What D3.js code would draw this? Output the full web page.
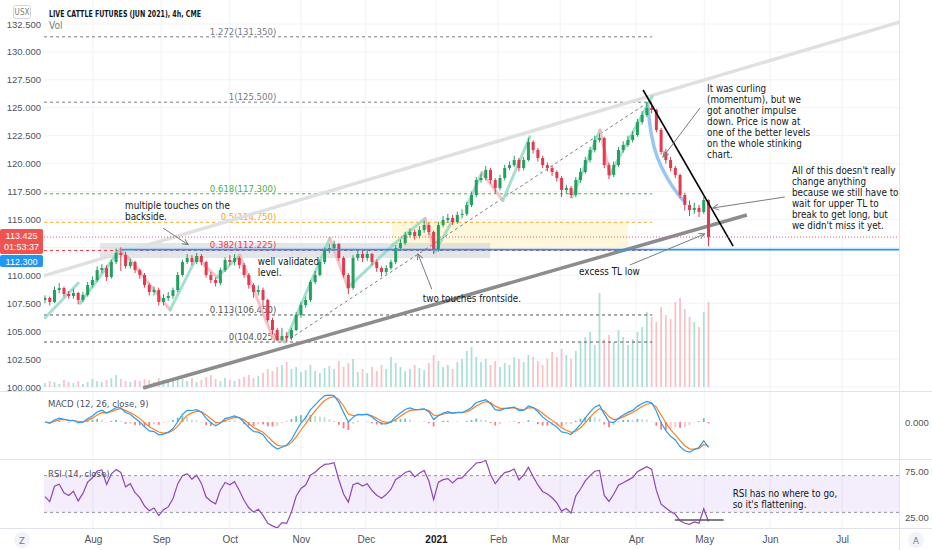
<!DOCTYPE html>
<html>
<head>
<meta charset="utf-8">
<script src="https://cdn.jsdelivr.net/npm/d3@7"></script>
<style>
  body { margin: 0; background: #fff; }
  text { font-family: "Liberation Sans Narrow", "DejaVu Sans Condensed", "Roboto", sans-serif; }
</style>
</head>
<body>
<div id="chart"></div>
<script>
// live cattle futures, one candle ~ 3 of the 4h bars
const closes = [107.97,107.61,108.68,108.86,108.33,108.15,108.42,107.79,108.24,109.13,
  109.58,110.47,110.65,109.85,111.19,112.00,111.82,110.83,111.19,110.47,
  110.03,109.13,108.50,108.68,107.61,107.97,108.15,108.68,110.03,111.19,
  111.55,111.19,111.73,111.19,110.03,109.58,109.31,110.47,111.37,111.19,
  111.55,110.92,110.03,109.13,108.50,108.68,107.79,106.00,105.10,104.21,
  104.57,104.39,105.10,106.45,107.34,107.79,109.40,110.03,111.19,112.26,
  112.44,112.80,111.55,110.03,108.86,111.55,111.91,111.55,111.91,111.19,
  110.65,110.30,110.65,111.19,112.44,112.89,113.61,113.88,113.52,114.06,
  114.50,113.88,112.26,114.50,114.95,115.13,114.77,115.40,115.49,116.29,
  117.19,118.53,118.71,119.43,118.53,117.82,118.71,119.61,119.87,120.32,
  119.61,120.32,121.93,121.22,120.50,119.87,119.61,119.25,118.71,117.64,
  117.82,117.19,118.53,119.25,120.32,121.22,122.11,122.29,119.87,118.98,
  119.87,121.22,121.67,122.11,122.56,123.72,124.35,124.98,124.80,123.01,
  121.04,120.32,119.61,118.98,117.19,116.29,115.85,116.03,115.67,116.74,
  113.425];
const highs = [108.2,108.1,109.0,109.3,109.0,108.6,108.8,108.5,108.5,109.4,
  109.9,110.8,111.0,110.9,111.4,112.4,112.5,112.1,111.5,111.3,
  110.6,110.2,109.3,109.0,108.9,108.3,108.5,108.9,110.3,111.4,
  111.9,111.8,112.0,111.9,111.3,110.3,109.8,110.7,111.6,111.8,
  111.9,111.7,111.1,110.2,109.3,109.1,108.9,107.9,106.2,105.3,
  105.3,104.9,105.3,106.7,107.6,108.1,109.6,110.4,111.4,112.5,
  112.8,113.1,112.9,111.7,110.2,111.8,112.3,112.2,112.3,112.0,
  111.4,110.8,110.9,111.4,112.7,113.2,113.9,114.2,114.1,114.4,
  114.9,114.7,114.0,114.8,115.3,115.5,115.4,115.7,115.9,116.6,
  117.5,118.8,119.1,119.8,119.6,118.7,119.0,119.9,120.2,120.7,
  120.5,120.6,122.3,122.1,121.4,120.7,120.1,119.8,119.4,118.9,
  118.1,118.0,118.8,119.6,120.6,121.5,122.5,122.7,122.4,120.1,
  120.2,121.5,122.0,122.5,122.9,124.0,124.7,125.5,125.4,124.9,
  123.2,121.3,120.6,119.8,119.1,117.4,116.7,116.5,116.3,117.0,
  116.8];
const lows = [107.5,107.3,107.5,108.4,108.1,107.9,107.9,107.4,107.6,108.1,
  108.9,109.4,110.2,109.5,109.7,111.0,110.4,110.6,110.6,110.2,
  109.7,108.9,108.2,108.2,107.3,107.3,107.7,107.9,108.5,109.9,
  111.0,110.9,111.0,110.9,109.8,109.3,109.0,109.1,110.3,110.9,
  110.9,110.6,109.8,108.8,108.0,108.2,107.2,105.8,104.7,104.1,
  104.1,104.025,104.2,105.0,106.2,107.1,107.6,109.2,109.9,111.0,
  112.0,112.2,111.3,109.8,108.3,108.7,111.3,111.2,111.3,110.9,
  110.3,109.9,110.1,110.5,111.0,112.2,112.7,113.4,113.2,113.3,
  113.8,113.6,111.9,112.1,114.3,114.7,114.5,114.6,115.1,115.3,
  116.1,117.0,118.3,118.5,118.2,117.3,117.6,118.5,119.4,119.7,
  119.3,119.4,120.2,120.9,120.2,119.6,119.3,118.9,118.4,117.0,
  117.3,116.9,117.0,118.3,119.1,120.1,121.0,121.9,119.6,118.6,
  118.8,119.7,121.0,121.5,121.9,122.4,123.5,124.2,124.5,122.8,
  120.8,120.0,119.3,118.7,116.9,115.8,115.3,115.5,115.2,115.5,
  112.6];
const volumes = [400,600,500,300,700,500,400,600,300,500,
  800,600,500,700,900,1200,800,600,500,700,
  600,800,700,500,900,600,500,700,1000,800,
  600,900,500,700,1000,1200,800,600,900,700,
  600,800,1000,1200,900,1100,1400,1800,1600,2000,
  2200,2500,1800,2000,1500,1700,2200,1600,1400,1900,
  2100,1800,2600,2000,2400,2800,1500,1800,1400,2000,
  1600,2200,1800,3000,2400,2000,1600,1800,2200,1900,
  1700,2400,3200,2600,2000,2200,1800,2500,2800,3600,
  4000,3000,2500,2800,2200,2600,2000,2400,2200,3000,
  2800,2500,3200,3000,2600,2200,2800,3500,3000,3800,
  3200,2800,3600,4500,5000,5500,4200,9400,4800,5200,
  4500,5700,5000,4200,4800,5500,6000,7500,7000,6500,
  8000,7200,6800,8500,8900,7800,7000,6500,6000,7500,
  8500];
const firstOpen = 107.80;
const lastPrice = 113.425;
const levelPrice = 112.300;
const countdown = "01:53:37";

const priceTicks = [100, 102.5, 105, 107.5, 110, 112.5, 115, 117.5, 120, 122.5, 125, 127.5, 130, 132.5];
const monthBars = [10.1, 24.5, 39.0, 54.0, 67.7, 82.5, 95.6, 108.7, 124.7, 139.1, 153.0, 168.2];
const monthLabels = ["Aug", "Sep", "Oct", "Nov", "Dec", "2021", "Feb", "Mar", "Apr", "May", "Jun", "Jul"];

const fibRatios = [1.272, 1, 0.618, 0.5, 0.382, 0.113, 0];
const fibPrices = [131.350, 125.500, 117.300, 114.750, 112.225, 106.450, 104.025];

// drawn lines: [bar, price] pairs
const upperChannel = [[-0.4, 109.94], [180.4, 132.68]];
const lowerTrend = [[20.7, 99.91], [148.1, 115.40]];
const downTrend = [[126.2, 126.59], [145.2, 112.62]];
const fibTrend = [[50.6, 104.025], [127.3, 125.5]];
const curlArc = [[127.2, 125.25], [127.8, 122.56], [129.1, 120.5], [131.2, 118.71], [133.6, 117.19], [135.2, 116.47]];
const zigzags = [
  [[0, 106.2], [7, 109.3]],
  [[7.4, 107.5], [15.8, 112.3], [17.5, 111.6], [26.4, 106.9], [32, 111.6], [36.3, 109.8], [41.1, 111.8],
   [48.1, 104.4], [50.6, 104.03], [60.1, 113.3], [63.9, 108.9], [73.4, 112.7], [80.2, 115.1], [82.3, 112.1], [86.1, 115.0]],
  [[89, 116.2], [92.2, 119.2], [96.6, 116.7], [102.3, 122.4]],
  [[111.2, 117.0], [117.1, 123.0], [119.2, 119.0], [128.1, 126.0]]
];

const noteBackside = ["multiple touches on the", "backside."];
const noteLevel = ["well validated", "level."];
const noteFront = ["two touches frontside."];
const noteExcess = ["excess TL low"];
const noteCurling = ["It was curling", "(momentum), but we", "got another impulse", "down. Price is now at",
  "one of the better levels", "on the whole stinking", "chart."];
const noteWait = ["All of this doesn't really", "change anything", "because we still have to",
  "wait for upper TL to", "break to get long, but", "we didn't miss it yet."];
const noteRsi = ["RSI has no where to go,", "so it's flattening."];

// ---------------------------------------------------------------
const W = 932, H = 550;
const left = 44, right = 899;
const green = "#22a05e", red = "#e53950";
const gray = "#787b86", ink = "#131722";
const axisFont = "'Liberation Sans', Arial, sans-serif";
const noteSize = 9.8;

const candles = closes.map((c, i) => ({
  i: i, o: i ? closes[i - 1] : firstOpen, c: c, h: highs[i], l: lows[i], v: volumes[i]
}));

const svg = d3.select("#chart").append("svg")
  .attr("width", W).attr("height", H)
  .style("display", "block");

const x = d3.scaleLinear().domain([0, closes.length - 1]).range([45, 708.5]);
const y = d3.scaleLinear().domain([100, 132.5]).range([387, 24]);
const yVol = d3.scaleLinear().domain([0, 10000]).range([387, 287]);
const line = d3.line().x(d => x(d[0])).y(d => y(d[1]));

svg.append("defs").append("clipPath").attr("id", "pane")
  .append("rect").attr("x", left).attr("y", 0).attr("width", right - left).attr("height", 390);
const marker = svg.select("defs").append("marker")
  .attr("id", "arrow").attr("viewBox", "0 0 10 10").attr("refX", 9).attr("refY", 5)
  .attr("markerWidth", 7).attr("markerHeight", 7).attr("orient", "auto");
marker.append("path").attr("d", "M1,1L9,5L1,9").attr("fill", "none").attr("stroke", gray).attr("stroke-width", 1.4);

// grid
const grid = svg.append("g").attr("stroke", "#f1f2f5").attr("stroke-width", 1);
grid.selectAll(".hg").data(priceTicks).enter().append("line")
  .attr("x1", left).attr("x2", right).attr("y1", d => y(d)).attr("y2", d => y(d));
grid.selectAll(".vg").data(monthBars).enter().append("line")
  .attr("x1", d => x(d)).attr("x2", d => x(d)).attr("y1", 0).attr("y2", 528);

const pane = svg.append("g").attr("clip-path", "url(#pane)");

// boxes
pane.append("rect")
  .attr("x", x(73.2)).attr("width", x(123.0) - x(73.2))
  .attr("y", y(114.75)).attr("height", y(112.225) - y(114.75))
  .attr("fill", "#fff4cf").attr("opacity", 0.75);
pane.append("rect")
  .attr("x", x(11.6)).attr("width", x(93.9) - x(11.6))
  .attr("y", y(112.89)).attr("height", y(111.55) - y(112.89))
  .attr("fill", "#c9ccd3").attr("opacity", 0.5);

// volume
pane.selectAll(".vol").data(candles).enter().append("rect")
  .attr("x", d => x(d.i) - 0.9).attr("width", 1.8)
  .attr("y", d => yVol(d.v)).attr("height", d => yVol(0) - yVol(d.v))
  .attr("fill", d => d.c >= d.o ? "#9ad8cb" : "#f7b3b9").attr("opacity", 0.8);

// fib levels
const fibColor = r => r === 0.618 ? "#4caf50" : r === 0.5 ? "#f5a623" : r === 0.382 ? "#f23645" : (r > 0.9 ? gray : "#555");
const fib = pane.append("g");
fib.selectAll("line").data(fibRatios).enter().append("line")
  .attr("x1", x(-0.2)).attr("x2", x(128.1))
  .attr("y1", (d, i) => y(fibPrices[i])).attr("y2", (d, i) => y(fibPrices[i]))
  .attr("stroke", d => fibColor(d)).attr("stroke-dasharray", "3,3").attr("stroke-width", 1);
fib.selectAll("text").data(fibRatios).enter().append("text")
  .attr("x", x(48.8)).attr("y", (d, i) => y(fibPrices[i]) - 2)
  .attr("text-anchor", "end").attr("font-size", 9.5)
  .attr("fill", d => fibColor(d))
  .text((d, i) => d + "(" + d3.format(".3f")(fibPrices[i]) + ")");

// trend lines
pane.append("path").datum(upperChannel).attr("d", line)
  .attr("stroke", "#e0e0e0").attr("stroke-width", 3.5).attr("fill", "none");
pane.append("path").datum(lowerTrend).attr("d", line)
  .attr("stroke", "#8c8c8c").attr("stroke-width", 3.5).attr("fill", "none");
pane.append("path").datum(fibTrend).attr("d", line)
  .attr("stroke", gray).attr("stroke-width", 1).attr("stroke-dasharray", "3,3").attr("fill", "none");

// zigzag highlights
zigzags.forEach(z => {
  pane.selectAll(null).data(d3.pairs(z)).enter().append("path")
    .attr("d", d => line(d))
    .attr("stroke", d => d[1][1] >= d[0][1] ? "#8fd8c2" : "#f7b0b8")
    .attr("stroke-width", 3).attr("stroke-linecap", "round").attr("fill", "none").attr("opacity", 0.8);
});
pane.append("path").datum(curlArc).attr("d", line.curve(d3.curveBasis))
  .attr("stroke", "#9ac7f2").attr("stroke-width", 3.5).attr("fill", "none");
line.curve(d3.curveLinear);

// candles
const cg = pane.append("g");
cg.selectAll(".wick").data(candles).enter().append("line")
  .attr("x1", d => x(d.i)).attr("x2", d => x(d.i))
  .attr("y1", d => y(d.h)).attr("y2", d => y(d.l))
  .attr("stroke", d => d.c >= d.o ? green : red).attr("stroke-width", 1);
cg.selectAll(".body").data(candles).enter().append("rect")
  .attr("x", d => x(d.i) - 1.5).attr("width", 3)
  .attr("y", d => y(Math.max(d.o, d.c)))
  .attr("height", d => Math.max(1, Math.abs(y(d.o) - y(d.c))))
  .attr("fill", d => d.c >= d.o ? green : red);

pane.append("path").datum(downTrend).attr("d", line)
  .attr("stroke", "#000").attr("stroke-width", 1.6).attr("fill", "none");

// price lines
pane.append("line").attr("x1", x(16.2)).attr("x2", right)
  .attr("y1", y(levelPrice)).attr("y2", y(levelPrice))
  .attr("stroke", "#2196f3").attr("stroke-width", 1.6);
pane.append("line").attr("x1", left).attr("x2", right)
  .attr("y1", y(lastPrice)).attr("y2", y(lastPrice))
  .attr("stroke", "#f7525f").attr("stroke-dasharray", "1,2").attr("stroke-width", 1);

// annotations
function note(lines, bar, price) {
  const t = svg.append("text").attr("font-size", noteSize).attr("fill", ink);
  lines.forEach((s, k) => t.append("tspan").attr("x", x(bar)).attr("y", y(price) + k * 11).text(s));
}
function arrow(a, b) {
  svg.append("line")
    .attr("x1", x(a[0])).attr("y1", y(a[1])).attr("x2", x(b[0])).attr("y2", y(b[1]))
    .attr("stroke", gray).attr("stroke-width", 1)
    .attr("marker-end", "url(#arrow)");
}
note(noteBackside, 16.9, 115.94);
arrow([24.9, 114.23], [30.2, 112.75]);
note(noteLevel, 44.9, 110.92);
note(noteFront, 79.7, 107.61);
arrow([81.6, 108.77], [78.7, 111.91]);
note(noteExcess, 112.7, 110.03);
arrow([123.4, 110.92], [139.2, 113.70]);
note(noteCurling, 139.7, 126.41);
arrow([138.2, 124.98], [130.4, 120.59]);
note(noteWait, 157.6, 119.07);
arrow([156.1, 117.01], [140.9, 116.03]);

// left price axis with last price / level tags
const redTop = y(lastPrice) - 8;
const tagBottom = redTop + 38;
const yAxis = svg.append("g").attr("transform", "translate(41,0)")
  .call(d3.axisLeft(y).tickValues(priceTicks).tickFormat(d3.format(".3f")).tickSize(0).tickPadding(0));
yAxis.select(".domain").remove();
yAxis.selectAll(".tick").filter(d => y(d) > redTop - 6 && y(d) < tagBottom + 6).remove();
yAxis.selectAll("text").attr("font-size", 9.5).attr("fill", "#50535e").style("font-family", axisFont);

function tag(top, h, color, lines) {
  svg.append("rect").attr("x", 0).attr("y", top).attr("width", 43).attr("height", h).attr("rx", 2).attr("fill", color);
  lines.forEach((s, k) => svg.append("text").attr("x", 21.5).attr("y", top + 9.5 + k * 11.5)
    .attr("text-anchor", "middle").attr("font-size", 9).attr("fill", "#fff").style("font-family", axisFont).text(s));
}
tag(redTop, 25, "#ef5350", [d3.format(".3f")(lastPrice), countdown]);
tag(redTop + 26, 12, "#2196f3", [d3.format(".3f")(levelPrice)]);

// header
svg.append("rect").attr("x", 13.5).attr("y", 5.5).attr("width", 17).attr("height", 13).attr("rx", 2)
  .attr("fill", "#fff").attr("stroke", "#d1d4dc");
svg.append("text").attr("x", 22).attr("y", 15).attr("text-anchor", "middle").attr("font-size", 8).attr("fill", gray).text("USX");
svg.append("text").attr("x", 49).attr("y", 17).attr("font-size", 9.5).attr("font-weight", "bold").attr("fill", ink)
  .attr("textLength", 152).attr("lengthAdjust", "spacingAndGlyphs")
  .text("LIVE CATTLE FUTURES (JUN 2021), 4h, CME");
svg.append("text").attr("x", 49).attr("y", 29).attr("font-size", 10).attr("fill", gray).text("Vol");

// ---------------- MACD (periods scaled to the coarser candles)
const barScale = 3;
function ema(arr, n) {
  const k = 2 / (n + 1), out = [];
  arr.forEach((v, i) => out.push(i ? v * k + out[i - 1] * (1 - k) : v));
  return out;
}
const fast = ema(closes, Math.round(12 / barScale));
const slow = ema(closes, Math.round(26 / barScale));
const macd = fast.map((v, i) => v - slow[i]);
const signal = ema(macd, Math.round(9 / barScale));
const hist = macd.map((v, i) => v - signal[i]);
const mMax = d3.max(macd.concat(signal), d => Math.abs(d));
const yM = d3.scaleLinear().domain([-mMax, mMax]).range([452, 392]);

svg.selectAll(".hist").data(hist).enter().append("rect")
  .attr("x", (d, i) => x(i) - 0.9).attr("width", 1.8)
  .attr("y", d => Math.min(yM(d), yM(0))).attr("height", d => Math.abs(yM(d) - yM(0)))
  .attr("fill", (d, i) => {
    const prev = i ? hist[i - 1] : 0;
    if (d >= 0) return d >= prev ? "#6fc2b4" : "#b8e2da";
    return d <= prev ? "#f47e84" : "#f9c4c7";
  });
svg.append("path").datum(signal)
  .attr("d", d3.line().x((d, i) => x(i)).y(d => yM(d)))
  .attr("stroke", "#ff7f1e").attr("stroke-width", 1.2).attr("fill", "none");
svg.append("path").datum(macd)
  .attr("d", d3.line().x((d, i) => x(i)).y(d => yM(d)))
  .attr("stroke", "#2b9af3").attr("stroke-width", 1.2).attr("fill", "none");
svg.append("text").attr("x", 48).attr("y", 407).attr("font-size", 9.5).attr("fill", "#50535e").text("MACD (12, 26, close, 9)");
svg.append("text").attr("x", 905).attr("y", yM(0) + 3.5).attr("font-size", 9.5).attr("fill", "#50535e")
  .style("font-family", axisFont).text(d3.format(".3f")(0));

// ---------------- RSI (Wilder, period scaled to the coarser candles)
const rsiN = 7;
const changes = closes.map((c, i) => i ? c - closes[i - 1] : 0);
let avgG = d3.mean(changes.slice(1, rsiN + 1), d => Math.max(d, 0));
let avgL = d3.mean(changes.slice(1, rsiN + 1), d => Math.max(-d, 0));
const rsi = changes.map((ch, i) => {
  if (i) {
    avgG = (avgG * (rsiN - 1) + Math.max(ch, 0)) / rsiN;
    avgL = (avgL * (rsiN - 1) + Math.max(-ch, 0)) / rsiN;
  }
  return avgL === 0 ? 100 : 100 - 100 / (1 + avgG / avgL);
});
const yR = d3.scaleLinear().domain([25, 75]).range([517, 471]);
svg.append("rect").attr("x", left).attr("width", right - left)
  .attr("y", yR(70)).attr("height", yR(30) - yR(70)).attr("fill", "#9c6ee8").attr("opacity", 0.12);
[70, 30].forEach(v => svg.append("line").attr("x1", left).attr("x2", right).attr("y1", yR(v)).attr("y2", yR(v))
  .attr("stroke", "#9598a1").attr("stroke-dasharray", "3,3").attr("stroke-width", 1));
svg.append("path").datum(rsi)
  .attr("d", d3.line().x((d, i) => x(i)).y(d => yR(d)))
  .attr("stroke", "#9346b8").attr("stroke-width", 1.2).attr("fill", "none");
svg.append("line").attr("x1", x(132.9)).attr("x2", x(143.2)).attr("y1", yR(21.7)).attr("y2", yR(21.7))
  .attr("stroke", "#555").attr("stroke-width", 1.6);
svg.append("text").attr("x", 48).attr("y", 477).attr("font-size", 9.5).attr("fill", "#50535e").text("RSI (14, close)");
const rsiNote = svg.append("text").attr("font-size", noteSize).attr("fill", ink);
noteRsi.forEach((s, k) => rsiNote.append("tspan").attr("x", x(145.1)).attr("y", yR(46.7) + k * 11).text(s));
[75, 25].forEach(v => svg.append("text").attr("x", 905).attr("y", yR(v) + 3.5).attr("font-size", 9.5)
  .attr("fill", "#50535e").style("font-family", axisFont).text(d3.format(".2f")(v)));

// ---------------- separators and time axis
const sep = svg.append("g").attr("stroke", "#e0e3eb").attr("stroke-width", 1);
[391, 459, 528].forEach(v => sep.append("line").attr("x1", 0).attr("x2", W).attr("y1", v + 0.5).attr("y2", v + 0.5));
sep.append("line").attr("x1", right + 0.5).attr("x2", right + 0.5).attr("y1", 0).attr("y2", H);

const xAxis = svg.append("g").attr("transform", "translate(0,532)")
  .call(d3.axisBottom(x).tickValues(monthBars).tickFormat((d, i) => monthLabels[i]).tickSize(0).tickPadding(4));
xAxis.select(".domain").remove();
xAxis.selectAll("text").attr("font-size", 10).attr("fill", "#50535e").style("font-family", axisFont)
  .filter(d => monthLabels[monthBars.indexOf(d)] === "2021")
  .attr("font-weight", "bold").attr("fill", ink);

[[22, "Z"], [916, "A"]].forEach(b => {
  svg.append("circle").attr("cx", b[0]).attr("cy", 540).attr("r", 8).attr("fill", "#f0f3fa");
  svg.append("text").attr("x", b[0]).attr("y", 543.5).attr("text-anchor", "middle").attr("font-size", 9.5)
    .attr("fill", gray).text(b[1]);
});
</script>
</body>
</html>
